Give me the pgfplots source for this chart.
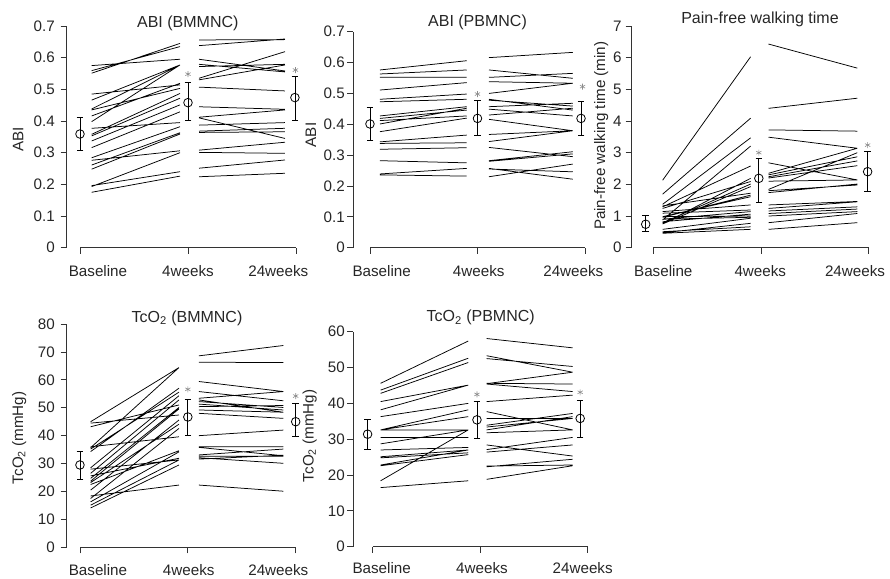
\documentclass[border=0pt]{standalone}
\usepackage{fontspec}
\setmainfont{Liberation Sans}
\usepackage{pgfplots}
\pgfplotsset{compat=1.18}
\newcommand\tickfont{\fontsize{15.2}{18}\selectfont}
\newcommand\titlefont{\fontsize{16}{19}\selectfont}
\pgfplotsset{
  panel/.style={
    scale only axis, axis lines*=left,
    axis line style={-, black!80, line width=0.8pt},
    tick style={black!80, line width=0.8pt},
    tick align=outside, major tick length=6pt,
    xtick={0,1,2}, xticklabels={}, xmax=2, ymin=0, clip=false,
    yticklabel style={font=\tickfont, text=black!85},
    /pgf/number format/assume math mode=true,
    unbounded coords=jump,
  },
  seg/.style={black, line width=0.75pt},
  means/.style={only marks, mark=o, mark size=4.3pt, black,
    mark options={line width=0.8pt, fill=white},
    error bars/.cd, y dir=both, y explicit,
    error bar style={line width=0.8pt, black},
    error mark options={rotate=90, mark size=3.3pt, line width=0.8pt}},
  stars/.style={only marks, mark=asterisk, mark size=3pt, black!45,
    mark options={line width=0.6pt}},
}
\begin{document}
\begin{tikzpicture}
\path[use as bounding box] (0,0) rectangle (890pt,-578pt);

% ---------- Panel 1: ABI (BMMNC)
\begin{axis}[panel, at={(66.7pt,-247.7pt)}, anchor=south west,
  width=229.3pt, height=221.7pt, xmin=-0.123, ymax=0.7,
  ytick={0,0.1,0.2,0.3,0.4,0.5,0.6,0.7},
  yticklabel style={xshift=-2.4pt},
  x axis line style={shorten <=13.3pt}]
\addplot[seg] coordinates {
(0.108,0.575) (0.926,0.595) (nan,nan)
(0.108,0.559) (0.926,0.635) (nan,nan)
(0.108,0.551) (0.926,0.645) (nan,nan)
(0.108,0.485) (0.926,0.514) (nan,nan)
(0.108,0.466) (0.926,0.577) (nan,nan)
(0.108,0.438) (0.926,0.577) (nan,nan)
(0.108,0.435) (0.926,0.503) (nan,nan)
(0.108,0.416) (0.926,0.519) (nan,nan)
(0.108,0.398) (0.926,0.577) (nan,nan)
(0.108,0.377) (0.926,0.395) (nan,nan)
(0.108,0.358) (0.926,0.487) (nan,nan)
(0.108,0.353) (0.926,0.472) (nan,nan)
(0.108,0.337) (0.926,0.451) (nan,nan)
(0.108,0.316) (0.926,0.429) (nan,nan)
(0.108,0.284) (0.926,0.382) (nan,nan)
(0.108,0.276) (0.926,0.306) (nan,nan)
(0.108,0.261) (0.926,0.363) (nan,nan)
(0.108,0.248) (0.926,0.359) (nan,nan)
(0.108,0.196) (0.926,0.240) (nan,nan)
(0.108,0.193) (0.926,0.300) (nan,nan)
(0.108,0.175) (0.926,0.226) (nan,nan)
(1.102,0.656) (1.898,0.657) (nan,nan)
(1.102,0.638) (1.898,0.659) (nan,nan)
(1.102,0.595) (1.898,0.558) (nan,nan)
(1.102,0.579) (1.898,0.555) (nan,nan)
(1.102,0.572) (1.898,0.579) (nan,nan)
(1.102,0.535) (1.898,0.619) (nan,nan)
(1.102,0.530) (1.898,0.577) (nan,nan)
(1.102,0.507) (1.898,0.495) (nan,nan)
(1.102,0.445) (1.898,0.437) (nan,nan)
(1.102,0.412) (1.898,0.435) (nan,nan)
(1.102,0.410) (1.898,0.345) (nan,nan)
(1.102,0.387) (1.898,0.395) (nan,nan)
(1.102,0.368) (1.898,0.377) (nan,nan)
(1.102,0.364) (1.898,0.366) (nan,nan)
(1.102,0.308) (1.898,0.333) (nan,nan)
(1.102,0.301) (1.898,0.298) (nan,nan)
(1.102,0.251) (1.898,0.277) (nan,nan)
(1.102,0.224) (1.898,0.235)
};
\addplot[means] coordinates {
(0,0.359) += (0,0.053) -= (0,0.053)
(1,0.458) += (0,0.063) -= (0,0.057)
(1.99,0.474) += (0,0.066) -= (0,0.071)
};
\addplot[stars] coordinates {(1,0.548) (1.995,0.561)};
\end{axis}

% ---------- Panel 2: ABI (PBMNC)
\begin{axis}[panel, at={(353.3pt,-247.7pt)}, anchor=south west,
  width=231.7pt, height=216pt, xmin=-0.155, ymax=0.7,
  ytick={0,0.1,0.2,0.3,0.4,0.5,0.6,0.7},
  yticklabel style={xshift=1pt},
  x axis line style={shorten <=16.7pt}]
\addplot[seg] coordinates {
(0.093,0.576) (0.900,0.606) (nan,nan)
(0.093,0.563) (0.900,0.576) (nan,nan)
(0.093,0.552) (0.900,0.552) (nan,nan)
(0.093,0.511) (0.900,0.535) (nan,nan)
(0.093,0.481) (0.900,0.498) (nan,nan)
(0.093,0.473) (0.900,0.481) (nan,nan)
(0.093,0.427) (0.900,0.457) (nan,nan)
(0.093,0.419) (0.900,0.446) (nan,nan)
(0.093,0.412) (0.900,0.427) (nan,nan)
(0.093,0.401) (0.900,0.452) (nan,nan)
(0.093,0.376) (0.900,0.420) (nan,nan)
(0.093,0.343) (0.900,0.365) (nan,nan)
(0.093,0.338) (0.900,0.340) (nan,nan)
(0.093,0.319) (0.900,0.324) (nan,nan)
(0.093,0.282) (0.900,0.275) (nan,nan)
(0.093,0.239) (0.900,0.257) (nan,nan)
(0.093,0.236) (0.900,0.232) (nan,nan)
(1.107,0.616) (1.886,0.633) (nan,nan)
(1.107,0.576) (1.886,0.549) (nan,nan)
(1.107,0.552) (1.886,0.565) (nan,nan)
(1.107,0.538) (1.886,0.533) (nan,nan)
(1.107,0.500) (1.886,0.533) (nan,nan)
(1.107,0.481) (1.886,0.446) (nan,nan)
(1.107,0.478) (1.886,0.459) (nan,nan)
(1.107,0.457) (1.886,0.468) (nan,nan)
(1.107,0.449) (1.886,0.427) (nan,nan)
(1.107,0.430) (1.886,0.452) (nan,nan)
(1.107,0.416) (1.886,0.379) (nan,nan)
(1.107,0.367) (1.886,0.379) (nan,nan)
(1.107,0.344) (1.886,0.379) (nan,nan)
(1.107,0.325) (1.886,0.295) (nan,nan)
(1.107,0.282) (1.886,0.311) (nan,nan)
(1.107,0.280) (1.886,0.304) (nan,nan)
(1.107,0.257) (1.886,0.222) (nan,nan)
(1.107,0.255) (1.886,0.246) (nan,nan)
(1.107,0.230) (1.886,0.271)
};
\addplot[means] coordinates {
(0,0.401) += (0,0.054) -= (0,0.054)
(1,0.419) += (0,0.057) -= (0,0.054)
(1.963,0.419) += (0,0.054) -= (0,0.054)
};
\addplot[stars] coordinates {(1,0.498) (1.977,0.522)};
\end{axis}

% ---------- Panel 3: Pain-free walking time
\begin{axis}[panel, at={(631.7pt,-247.7pt)}, anchor=south west,
  width=237pt, height=221.7pt, xmin=-0.2, ymax=7,
  ytick={0,1,2,3,4,5,6,7},
  yticklabel style={xshift=-0.7pt},
  x axis line style={shorten <=21.6pt}]
\addplot[seg] coordinates {
(0.087,2.13) (0.904,6.03) (nan,nan)
(0.087,1.69) (0.904,4.09) (nan,nan)
(0.087,1.37) (0.904,3.47) (nan,nan)
(0.087,0.875) (0.904,3.21) (nan,nan)
(0.087,1.29) (0.904,2.58) (nan,nan)
(0.087,0.75) (0.904,2.19) (nan,nan)
(0.087,1.24) (0.904,2.09) (nan,nan)
(0.087,0.79) (0.904,2.01) (nan,nan)
(0.087,0.75) (0.904,1.93) (nan,nan)
(0.087,1.32) (0.904,1.72) (nan,nan)
(0.087,0.96) (0.904,1.66) (nan,nan)
(0.087,0.98) (0.904,1.61) (nan,nan)
(0.087,1.14) (0.904,1.35) (nan,nan)
(0.087,1.09) (0.904,1.19) (nan,nan)
(0.087,0.90) (0.904,1.14) (nan,nan)
(0.087,0.82) (0.904,1.06) (nan,nan)
(0.087,0.98) (0.904,1.00) (nan,nan)
(0.087,0.90) (0.904,0.96) (nan,nan)
(0.087,0.58) (0.904,0.93) (nan,nan)
(0.087,0.47) (0.904,0.77) (nan,nan)
(0.087,0.505) (0.904,0.66) (nan,nan)
(0.087,0.455) (0.904,0.58) (nan,nan)
(1.07,6.43) (1.894,5.67) (nan,nan)
(1.07,4.40) (1.894,4.72) (nan,nan)
(1.07,3.72) (1.894,3.68) (nan,nan)
(1.07,3.49) (1.894,3.14) (nan,nan)
(1.07,2.68) (1.894,2.14) (nan,nan)
(1.07,2.35) (1.894,3.14) (nan,nan)
(1.07,2.30) (1.894,2.87) (nan,nan)
(1.07,2.24) (1.894,2.74) (nan,nan)
(1.07,2.20) (1.894,2.59) (nan,nan)
(1.07,1.84) (1.894,3.00) (nan,nan)
(1.07,1.80) (1.894,1.98) (nan,nan)
(1.07,1.74) (1.894,2.01) (nan,nan)
(1.07,2.10) (1.894,2.14) (nan,nan)
(1.07,1.35) (1.894,1.46) (nan,nan)
(1.07,1.24) (1.894,1.45) (nan,nan)
(1.07,1.16) (1.894,1.29) (nan,nan)
(1.07,1.08) (1.894,1.22) (nan,nan)
(1.07,1.00) (1.894,1.14) (nan,nan)
(1.07,0.79) (1.894,1.08) (nan,nan)
(1.07,0.58) (1.894,0.79)
};
\addplot[means] coordinates {
(-0.07,0.74) += (0,0.29) -= (0,0.235)
(0.98,2.19) += (0,0.63) -= (0,0.76)
(1.99,2.40) += (0,0.63) -= (0,0.63)
};
\addplot[stars] coordinates {(0.98,3.0) (1.99,3.24)};
\end{axis}

% ---------- Panel 4: TcO2 (BMMNC)
\begin{axis}[panel, at={(66.7pt,-547.3pt)}, anchor=south west,
  width=229pt, height=223.3pt, xmin=-0.123, ymax=80,
  ytick={0,10,20,30,40,50,60,70,80},
  yticklabel style={xshift=-2.4pt},
  x axis line style={shorten <=13.3pt}]
\addplot[seg] coordinates {
(0.099,45.0) (0.918,64.4) (nan,nan)
(0.099,44.5) (0.918,47.4) (nan,nan)
(0.099,43.2) (0.918,51.0) (nan,nan)
(0.099,35.7) (0.918,64.4) (nan,nan)
(0.099,35.2) (0.918,55.6) (nan,nan)
(0.099,34.3) (0.918,57.0) (nan,nan)
(0.099,36.0) (0.918,39.6) (nan,nan)
(0.099,28.5) (0.918,54.3) (nan,nan)
(0.099,28.0) (0.918,31.3) (nan,nan)
(0.099,26.5) (0.918,52.8) (nan,nan)
(0.099,25.6) (0.918,31.9) (nan,nan)
(0.099,24.7) (0.918,50.1) (nan,nan)
(0.099,23.7) (0.918,49.6) (nan,nan)
(0.099,23.2) (0.918,44.1) (nan,nan)
(0.099,22.5) (0.918,34.6) (nan,nan)
(0.099,20.5) (0.918,45.6) (nan,nan)
(0.099,18.4) (0.918,22.3) (nan,nan)
(0.099,17.5) (0.918,42.6) (nan,nan)
(0.099,16.3) (0.918,34.2) (nan,nan)
(0.099,15.1) (0.918,31.3) (nan,nan)
(0.099,14.1) (0.918,29.5) (nan,nan)
(1.103,68.6) (1.885,72.3) (nan,nan)
(1.103,66.3) (1.885,66.2) (nan,nan)
(1.103,59.4) (1.885,55.8) (nan,nan)
(1.103,55.8) (1.885,52.5) (nan,nan)
(1.103,53.4) (1.885,55.8) (nan,nan)
(1.103,52.8) (1.885,48.4) (nan,nan)
(1.103,52.2) (1.885,50.1) (nan,nan)
(1.103,51.3) (1.885,49.2) (nan,nan)
(1.103,50.4) (1.885,50.8) (nan,nan)
(1.103,49.2) (1.885,48.4) (nan,nan)
(1.103,48.0) (1.885,46.2) (nan,nan)
(1.103,40.0) (1.885,42.0) (nan,nan)
(1.103,36.0) (1.885,36.0) (nan,nan)
(1.103,35.8) (1.885,32.8) (nan,nan)
(1.103,33.1) (1.885,35.2) (nan,nan)
(1.103,32.6) (1.885,32.6) (nan,nan)
(1.103,32.1) (1.885,30.1) (nan,nan)
(1.103,31.6) (1.885,33.0) (nan,nan)
(1.103,22.3) (1.885,20.1)
};
\addplot[means] coordinates {
(0,29.5) += (0,5.0) -= (0,5.0)
(1,46.7) += (0,6.4) -= (0,6.7)
(2,45.0) += (0,6.6) -= (0,5.4)
};
\addplot[stars] coordinates {(1,56.6) (2,54.2)};
\end{axis}

% ---------- Panel 5: TcO2 (PBMNC)
\begin{axis}[panel, at={(353.3pt,-546.7pt)}, anchor=south west,
  width=234.4pt, height=215pt, xmin=-0.18, ymax=60,
  ytick={0,10,20,30,40,50,60},
  yticklabel style={xshift=1pt},
  x axis line style={shorten <=19.4pt}]
\addplot[seg] coordinates {
(0.074,45.6) (0.889,57.4) (nan,nan)
(0.074,43.7) (0.889,52.6) (nan,nan)
(0.074,42.8) (0.889,51.4) (nan,nan)
(0.074,40.5) (0.889,45.1) (nan,nan)
(0.074,38.2) (0.889,45.1) (nan,nan)
(0.074,36.3) (0.889,40.0) (nan,nan)
(0.074,32.6) (0.889,38.2) (nan,nan)
(0.074,32.6) (0.889,36.3) (nan,nan)
(0.074,32.6) (0.889,32.6) (nan,nan)
(0.074,30.5) (0.889,30.5) (nan,nan)
(0.074,28.7) (0.889,32.6) (nan,nan)
(0.074,27.0) (0.889,27.7) (nan,nan)
(0.074,25.1) (0.889,27.0) (nan,nan)
(0.074,24.8) (0.889,26.2) (nan,nan)
(0.074,22.8) (0.889,27.0) (nan,nan)
(0.074,22.6) (0.889,25.7) (nan,nan)
(0.074,18.4) (0.889,32.6) (nan,nan)
(0.074,16.5) (0.889,18.4) (nan,nan)
(1.06,58.1) (1.86,55.5) (nan,nan)
(1.06,53.3) (1.86,48.7) (nan,nan)
(1.06,52.5) (1.86,50.3) (nan,nan)
(1.06,45.6) (1.86,45.4) (nan,nan)
(1.06,45.5) (1.86,48.7) (nan,nan)
(1.06,45.4) (1.86,43.3) (nan,nan)
(1.06,40.5) (1.86,42.3) (nan,nan)
(1.06,37.7) (1.86,32.6) (nan,nan)
(1.06,35.8) (1.86,35.8) (nan,nan)
(1.06,33.9) (1.86,37.2) (nan,nan)
(1.06,33.4) (1.86,35.8) (nan,nan)
(1.06,32.6) (1.86,36.3) (nan,nan)
(1.06,31.8) (1.86,32.6) (nan,nan)
(1.06,28.4) (1.86,25.3) (nan,nan)
(1.06,27.1) (1.86,30.5) (nan,nan)
(1.06,26.4) (1.86,28.4) (nan,nan)
(1.06,22.5) (1.86,22.8) (nan,nan)
(1.06,22.3) (1.86,24.4) (nan,nan)
(1.06,18.8) (1.86,22.6)
};
\addplot[means] coordinates {
(-0.047,31.4) += (0,4.2) -= (0,4.2)
(0.97,35.4) += (0,5.1) -= (0,5.3)
(1.93,35.8) += (0,5.1) -= (0,5.3)
};
\addplot[stars] coordinates {(0.97,42.5) (1.93,43.1)};
\end{axis}

% ---------- titles, axis labels and category labels
\begin{scope}[every node/.style={text=black!85, inner sep=0pt}]
\node[anchor=base, font=\titlefont] at (187.8pt,-27.3pt) {ABI (BMMNC)};
\node[anchor=base, font=\titlefont] at (477.5pt,-26.7pt) {ABI (PBMNC)};
\node[anchor=base, font=\titlefont] at (760pt,-24pt) {Pain-free walking time};
\node[anchor=base, font=\titlefont] at (187pt,-322.3pt) {TcO\textsubscript{2} (BMMNC)};
\node[anchor=base, font=\titlefont] at (480.7pt,-321.7pt) {TcO\textsubscript{2} (PBMNC)};

\node[anchor=base, rotate=90, font=\tickfont] at (23.3pt,-139.3pt) {ABI};
\node[anchor=base, rotate=90, font=\tickfont] at (316pt,-135pt) {ABI};
\node[anchor=base, rotate=90, font=\tickfont] at (605pt,-135.8pt) {Pain-free walking time (min)};
\node[anchor=base, rotate=90, font=\tickfont] at (23pt,-437.8pt) {TcO\textsubscript{2} (mmHg)};
\node[anchor=base, rotate=90, font=\tickfont] at (313.5pt,-435.8pt) {TcO\textsubscript{2} (mmHg)};

\foreach \x/\t in {98/Baseline, 188/4weeks, 278.3/24weeks}
  \node[anchor=base, font=\tickfont] at (\x pt,-276.7pt) {\t};
\foreach \x/\t in {381.7/Baseline, 478.7/4weeks, 573.3/24weeks}
  \node[anchor=base, font=\tickfont] at (\x pt,-276.7pt) {\t};
\foreach \x/\t in {663.3/Baseline, 760.3/4weeks, 855/24weeks}
  \node[anchor=base, font=\tickfont] at (\x pt,-276.7pt) {\t};
\foreach \x/\t in {98/Baseline, 188.7/4weeks, 278.3/24weeks}
  \node[anchor=base, font=\tickfont] at (\x pt,-575pt) {\t};
\foreach \x/\t in {381.7/Baseline, 482/4weeks, 582.7/24weeks}
  \node[anchor=base, font=\tickfont] at (\x pt,-573.3pt) {\t};
\end{scope}
\end{tikzpicture}
\end{document}
